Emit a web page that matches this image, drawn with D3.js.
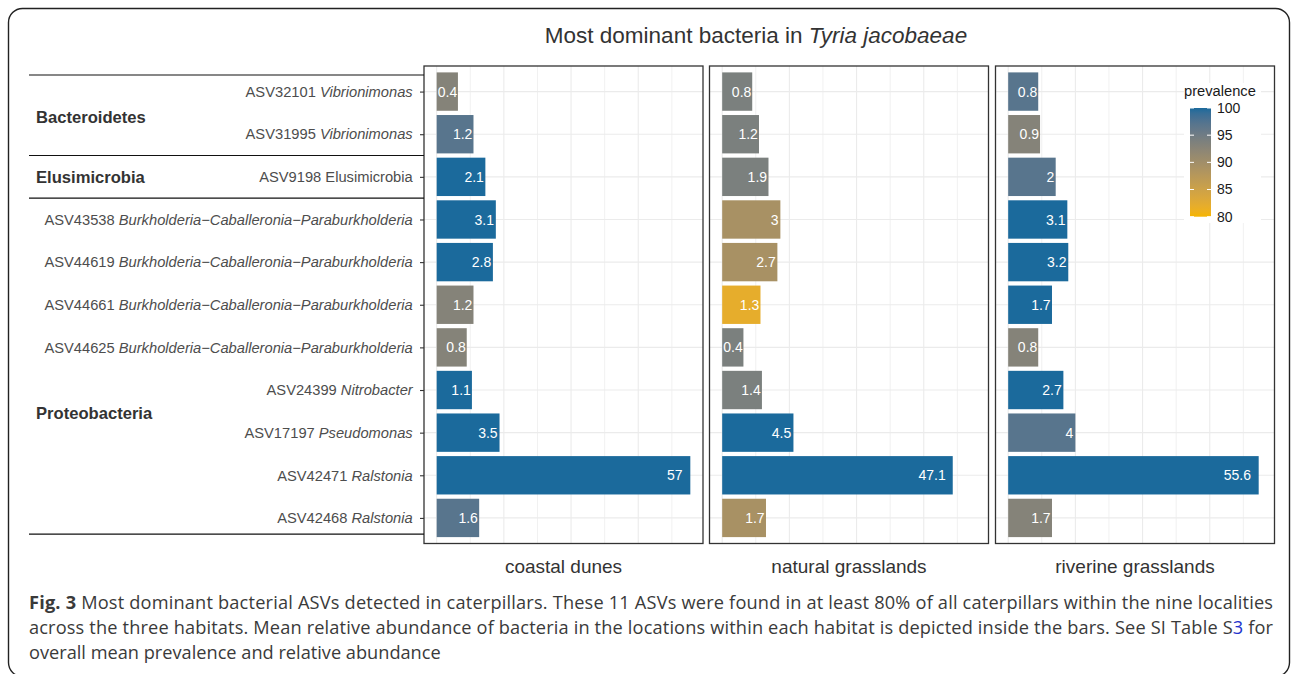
<!DOCTYPE html>
<html><head><meta charset="utf-8">
<script src="https://cdn.jsdelivr.net/npm/d3@7"></script>
<style>body{margin:0;background:#fff} svg{display:block}</style>
</head><body>
<svg id="c" width="1292" height="674"></svg>
<script>
// ---------------- data ----------------
const asvIds = ["ASV32101","ASV31995","ASV9198","ASV43538","ASV44619","ASV44661","ASV44625","ASV24399","ASV17197","ASV42471","ASV42468"];
const genusNames = ["Vibrionimonas","Vibrionimonas","Elusimicrobia",
  "Burkholderia\u2212Caballeronia\u2212Paraburkholderia","Burkholderia\u2212Caballeronia\u2212Paraburkholderia",
  "Burkholderia\u2212Caballeronia\u2212Paraburkholderia","Burkholderia\u2212Caballeronia\u2212Paraburkholderia",
  "Nitrobacter","Pseudomonas","Ralstonia","Ralstonia"];
const genusItalic = [true,true,false,true,true,true,true,true,true,true,true];
const phylumOfAsv = ["Bacteroidetes","Bacteroidetes","Elusimicrobia","Proteobacteria","Proteobacteria","Proteobacteria","Proteobacteria","Proteobacteria","Proteobacteria","Proteobacteria","Proteobacteria"];
const phylumNames = ["Bacteroidetes","Elusimicrobia","Proteobacteria"];
const habitats = ["coastal dunes","natural grasslands","riverine grasslands"];
const abundanceCoastal  = [0.4,1.2,2.1,3.1,2.8,1.2,0.8,1.1,3.5,57,1.6];
const abundanceNatural  = [0.8,1.2,1.9,3,2.7,1.3,0.4,1.4,4.5,47.1,1.7];
const abundanceRiverine = [0.8,0.9,2,3.1,3.2,1.7,0.8,2.7,4,55.6,1.7];
const prevalenceCoastal  = [93,97,100,100,100,93,93,100,100,100,97];
const prevalenceNatural  = [94,94,94,89.2,89.2,82,94,94,100,100,89.2];
const prevalenceRiverine = [97,93,97,100,100,100,93,100,97,100,93];
const prevalenceTicks = [80,85,90,95,100];
const titleMain = "Most dominant bacteria in ";
const titleSpecies = "Tyria jacobaeae";

const abundances = [abundanceCoastal, abundanceNatural, abundanceRiverine];
const prevalences = [prevalenceCoastal, prevalenceNatural, prevalenceRiverine];

// ---------------- setup ----------------
const svg = d3.select("#c");
const FONT = "'Liberation Sans', Arial, Helvetica, sans-serif";

svg.append("rect").attr("x",8.5).attr("y",8.5).attr("width",1281).attr("height",668)
  .attr("rx",14).attr("fill","none").attr("stroke","#222").attr("stroke-width",1.4);

const panelTop = 66, panelBottom = 543.5, panelW = 279;
const panelLefts = [424, 709.5, 995.5];

const sMax = Math.sqrt(d3.max(abundances.flat()));
const x = d3.scaleLinear().domain([-0.05*sMax, 1.05*sMax]).range([0, panelW]);
const xv = v => x(Math.sqrt(v));
const y = d3.scalePoint().domain(asvIds).range([panelTop, panelBottom]).padding(0.6);
const step = y.step();
const barH = step * 0.9;
const color = d3.scaleLinear().domain([80,100]).range(["#F6B500","#1B6A9C"])
  .interpolate(d3.interpolateLab).clamp(true);

const gridVals = d3.range(0, Math.floor(1.05*sMax) + 1);

habitats.forEach((hab, hi) => {
  const g = svg.append("g").attr("transform", `translate(${panelLefts[hi]},0)`);
  g.append("rect").attr("x",0).attr("y",panelTop).attr("width",panelW).attr("height",panelBottom-panelTop).attr("fill","#fff");
  g.selectAll("line.vg").data(gridVals).join("line")
    .attr("x1", d => x(d)).attr("x2", d => x(d))
    .attr("y1", panelTop).attr("y2", panelBottom)
    .attr("stroke", d => d % 2 === 0 ? "#ebebeb" : "#efefef")
    .attr("stroke-width", d => d % 2 === 0 ? 1.1 : 0.9);
  g.selectAll("line.hg").data(asvIds).join("line")
    .attr("x1", 0).attr("x2", panelW)
    .attr("y1", d => y(d)).attr("y2", d => y(d))
    .attr("stroke", "#ebebeb").attr("stroke-width", 1.1);
  const rows = asvIds.map((id, i) => ({id, v: abundances[hi][i], p: prevalences[hi][i]}));
  g.selectAll("rect.bar").data(rows).join("rect")
    .attr("x", x(0)).attr("width", d => xv(d.v) - x(0))
    .attr("y", d => y(d.id) - barH/2).attr("height", barH)
    .attr("fill", d => color(d.p));
  g.selectAll("text.lab").data(rows).join("text")
    .attr("x", d => xv(d.v*0.94)).attr("y", d => y(d.id))
    .attr("dy","0.36em").attr("text-anchor","end")
    .attr("font-family", FONT).attr("font-size", 14).attr("fill","#fff")
    .text(d => d.v);
  g.append("rect").attr("x",0).attr("y",panelTop).attr("width",panelW).attr("height",panelBottom-panelTop)
    .attr("fill","none").attr("stroke","#333").attr("stroke-width",1.3);
  svg.append("text").attr("x", panelLefts[hi] + panelW/2).attr("y", 566).attr("dy","0.35em")
    .attr("text-anchor","middle").attr("font-family",FONT).attr("font-size",19).attr("fill","#333").text(hab);
});

// y axis
const ax = svg.append("g").attr("transform", `translate(${panelLefts[0]},0)`)
  .call(d3.axisLeft(y).tickSize(4).tickPadding(7.3));
ax.select(".domain").remove();
ax.selectAll(".tick line").attr("stroke","#333").attr("stroke-width",1.1);
ax.selectAll(".tick text").each(function(d, i) {
  const t = d3.select(this).text(null).attr("font-family",FONT).attr("font-size",14.7).attr("fill","#4d4d4d");
  t.append("tspan").text(asvIds[i] + " ");
  t.append("tspan").attr("font-style", genusItalic[i] ? "italic" : "normal").text(genusNames[i]);
});

// phylum groups
const groupBounds = phylumNames.map(p => {
  const idx = asvIds.map((id,i)=>i).filter(i => phylumOfAsv[i] === p);
  return {p, first: idx[0], last: idx[idx.length-1]};
});
const sepYs = [y(asvIds[0]) - 0.39*step];
groupBounds.forEach((gb, k) => {
  if (k < groupBounds.length - 1) sepYs.push((y(asvIds[gb.last]) + y(asvIds[gb.last+1]))/2);
  else sepYs.push(y(asvIds[gb.last]) + 0.38*step);
});
svg.selectAll("line.sep").data(sepYs).join("line")
  .attr("x1", 29).attr("x2", panelLefts[0]).attr("y1", d => d).attr("y2", d => d)
  .attr("stroke", "#111").attr("stroke-width", 1.1);
const phylumLabelRow = [0.6, 2, 7.55];
svg.selectAll("text.phy").data(phylumNames).join("text")
  .attr("x", 36).attr("y", (d, k) => panelTop + step*(0.6 + phylumLabelRow[k]))
  .attr("dy","0.35em").attr("font-family",FONT).attr("font-weight","bold")
  .attr("font-size",16.6).attr("fill","#333").text(d => d);

// title
const title = svg.append("text").attr("x", 756).attr("y", 35).attr("dy","0.35em").attr("text-anchor","middle")
  .attr("font-family",FONT).attr("font-size",22.5).attr("fill","#333");
title.append("tspan").text(titleMain);
title.append("tspan").attr("font-style","italic").text(titleSpecies);

// legend
const lg = svg.append("g");
lg.append("rect").attr("x",1184).attr("y",83).attr("width",77).attr("height",140).attr("fill","#fff");
lg.append("text").attr("x",1184).attr("y",91).attr("dy","0.35em").attr("font-family",FONT)
  .attr("font-size",14.7).attr("fill","#1a1a1a").text("prevalence");
const ly = d3.scaleLinear().domain([80,100]).range([216.7,108]);
const defs = svg.append("defs");
const grad = defs.append("linearGradient").attr("id","pg").attr("x1",0).attr("y1",1).attr("x2",0).attr("y2",0);
d3.range(0, 21).forEach(k => {
  const v = 80 + k;
  grad.append("stop").attr("offset", (k/20)).attr("stop-color", color(v));
});
lg.append("rect").attr("x",1190).attr("y",ly(100)).attr("width",21).attr("height",ly(80)-ly(100)).attr("fill","url(#pg)");
lg.selectAll("line.lt").data(prevalenceTicks).join("line")
  .attr("x1",1207).attr("x2",1211).attr("y1", d=>ly(d)).attr("y2", d=>ly(d)).attr("stroke","#fff").attr("stroke-width",1);
lg.selectAll("line.lt2").data(prevalenceTicks).join("line")
  .attr("x1",1190).attr("x2",1194).attr("y1", d=>ly(d)).attr("y2", d=>ly(d)).attr("stroke","#fff").attr("stroke-width",1);
lg.selectAll("text.lt").data(prevalenceTicks).join("text")
  .attr("x",1217).attr("y", d=>ly(d)).attr("dy","0.35em").attr("font-family",FONT)
  .attr("font-size",14).attr("fill","#1a1a1a").text(d => d);

// caption
const CF = "'Open Sans', 'Noto Sans', sans-serif";
const capColor = "#3a3a3a";
const l1 = svg.append("text").attr("x",29).attr("y",609).attr("font-family",CF).attr("fill",capColor);
l1.append("tspan").attr("font-weight","bold").text("Fig. 3");
l1.append("tspan").text(" Most dominant bacterial ASVs detected in caterpillars. These 11 ASVs were found in at least 80% of all caterpillars within the nine localities");
const l2 = svg.append("text").attr("x",29).attr("y",634).attr("font-family",CF).attr("fill",capColor);
l2.append("tspan").text("across the three habitats. Mean relative abundance of bacteria in the locations within each habitat is depicted inside the bars. See SI Table S");
l2.append("tspan").attr("fill","#2233cc").text("3");
l2.append("tspan").text(" for");
const l3 = svg.append("text").attr("x",29).attr("y",659).attr("font-family",CF).attr("fill",capColor)
  .text("overall mean prevalence and relative abundance");
l3.attr("font-size", 17);
const w3 = l3.node().getComputedTextLength();
const fs = 17 * 412 / w3;
[l1,l2,l3].forEach(t => t.attr("font-size", fs));
l1.attr("textLength", 1244).attr("lengthAdjust","spacing");
l2.attr("textLength", 1244).attr("lengthAdjust","spacing");
</script>
</body></html>
